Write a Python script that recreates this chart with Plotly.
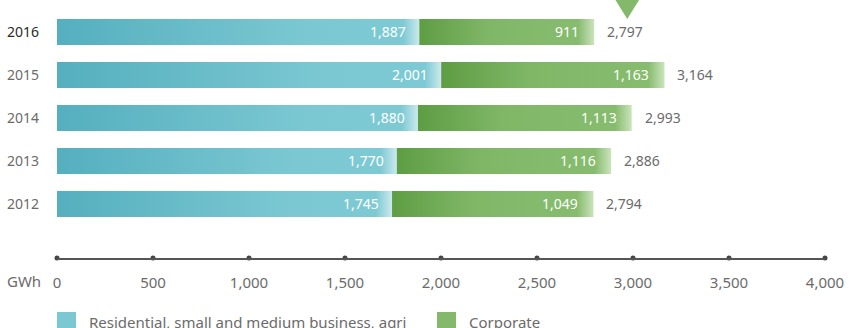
import plotly.graph_objects as go

# Electricity sales by customer segment, GWh
years = ["2012", "2013", "2014", "2015", "2016"]
residential = [1745, 1770, 1880, 2001, 1887]
corporate = [1049, 1116, 1113, 1163, 911]
totals = [2794, 2886, 2993, 3164, 2797]
x_ticks = [0, 500, 1000, 1500, 2000, 2500, 3000, 3500, 4000]
x_tick_labels = ["0", "500", "1,000", "1,500", "2,000", "2,500", "3,000", "3,500", "4,000"]
series_names = ["Residential, small and medium business, agri", "Corporate"]

FONT = "Noto Sans"
GREY = "#6b6b6b"
TEAL = "#7BC8D2"
GREEN = "#84B96B"

PLOT_W = 768          # plot width in px
X_MAX = 4000
PX_PER_UNIT = PLOT_W / X_MAX
HALF = 0.30           # half bar thickness in category units
FADE_PX = 16          # pale fade at the right end of each segment


def fmt(v):
    return f"{v:,}"


def teal_scale(width_px):
    f = min(0.2, FADE_PX / max(width_px, 1))
    return [[0, "#55AFBE"], [0.7, "#7BC8D2"], [1 - f, "#7ECAD4"], [1, "#CBE9ED"]]


def green_scale(width_px):
    f = min(0.2, FADE_PX / max(width_px, 1))
    return [[0, "#5E9D44"], [0.4, "#80B767"], [1 - f, "#87BC6F"], [1, "#CAE4BC"]]


fig = go.Figure()

for i, yr in enumerate(years):
    segs = [
        (0, residential[i], teal_scale),
        (residential[i], residential[i] + corporate[i], green_scale),
    ]
    for x0, x1, scale in segs:
        w_px = (x1 - x0) * PX_PER_UNIT
        fig.add_trace(go.Scatter(
            x=[x0, x1, x1, x0, x0],
            y=[i - HALF, i - HALF, i + HALF, i + HALF, i - HALF],
            mode="lines", line=dict(width=0), fill="toself",
            fillgradient=dict(type="horizontal", colorscale=scale(w_px)),
            hoverinfo="skip", showlegend=False,
        ))

# Value labels inside segments and totals after the bar
for i, yr in enumerate(years):
    fig.add_annotation(x=residential[i], y=i, text=fmt(residential[i]),
                       xanchor="right", xshift=-11, showarrow=False,
                       font=dict(family=FONT, size=14, color="white"))
    end = residential[i] + corporate[i]
    fig.add_annotation(x=end, y=i, text=fmt(corporate[i]),
                       xanchor="right", xshift=-13, showarrow=False,
                       font=dict(family=FONT, size=14, color="white"))
    fig.add_annotation(x=end, y=i, text=fmt(totals[i]),
                       xanchor="left", xshift=11, showarrow=False,
                       font=dict(family=FONT, size=14, color=GREY))

Y_MIN, Y_MAX = -1.256, 4.744

# Dots on the value axis at each tick
fig.add_trace(go.Scatter(
    x=x_ticks, y=[Y_MIN] * len(x_ticks), mode="markers",
    marker=dict(size=5, color="#444444"), cliponaxis=False,
    hoverinfo="skip", showlegend=False,
))

year_text = [f'<span style="color:#2a2a2a">{y}</span>' if y == "2016" else y for y in years]

fig.update_layout(
    width=849, height=328,
    margin=dict(l=57, r=24, t=0, b=70),
    paper_bgcolor="white", plot_bgcolor="white",
    showlegend=False,
    font=dict(family=FONT, size=14, color=GREY),
    xaxis=dict(
        range=[0, X_MAX], tickvals=x_ticks, ticktext=x_tick_labels,
        showgrid=False, zeroline=False, showline=True,
        linecolor="#555555", linewidth=1.5, ticks="",
        ticklabelstandoff=10,
        tickfont=dict(family=FONT, size=15, color=GREY),
        fixedrange=True,
    ),
    yaxis=dict(
        range=[Y_MIN, Y_MAX], tickvals=list(range(len(years))), ticktext=year_text,
        showgrid=False, zeroline=False, showline=False, ticks="",
        ticklabelstandoff=17,
        tickfont=dict(family=FONT, size=14, color=GREY),
        fixedrange=True,
    ),
)

# Unit label next to the tick labels
fig.add_annotation(x=(23.5 - 57) / PLOT_W, xref="paper", y=-0.089, yref="paper",
                   text="GWh", showarrow=False, xanchor="center", yanchor="middle",
                   font=dict(family=FONT, size=15, color=GREY))

# Pointer above the latest year
fig.add_shape(type="path", xref="x", yref="paper",
              xsizemode="pixel", ysizemode="pixel", xanchor=2970, yanchor=1,
              path="M -18,10 L 18,10 L 0,-19 Z",
              fillcolor=GREEN, line=dict(width=0), layer="above")

# Legend swatches and labels
legend_items = [(0.0, TEAL, series_names[0]), ((437 - 57) / PLOT_W, GREEN, series_names[1])]
for x_paper, color, name in legend_items:
    fig.add_shape(type="rect", xref="paper", yref="paper",
                  x0=x_paper, x1=x_paper + 19 / PLOT_W,
                  y0=(258 - 332) / 258, y1=(258 - 312) / 258,
                  fillcolor=color, line=dict(width=0))
    fig.add_annotation(x=x_paper + 30 / PLOT_W, xref="paper", y=(258 - 322) / 258, yref="paper",
                       text=name, showarrow=False, xanchor="left", yanchor="middle",
                       font=dict(family=FONT, size=15, color=GREY))

fig.write_html("out.html")
